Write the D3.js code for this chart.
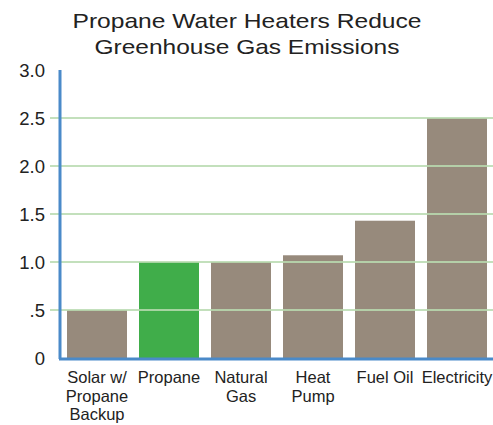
<!DOCTYPE html>
<html>
<head>
<meta charset="utf-8">
<script src="https://cdn.jsdelivr.net/npm/d3@7"></script>
<style>
  body { margin: 0; background: #fff; }
  text { font-family: "Liberation Sans", Arial, sans-serif; fill: #222; }
</style>
</head>
<body>
<div id="chart"></div>
<script>
const categories = ["Solar w/|Propane|Backup", "Propane", "Natural|Gas", "Heat|Pump", "Fuel Oil", "Electricity"];
const values = [0.5, 1.0, 1.0, 1.07, 1.43, 2.5];
const barColors = ["#978a7c", "#40ad4a", "#978a7c", "#978a7c", "#978a7c", "#978a7c"];
const tickValues = [0, 0.5, 1.0, 1.5, 2.0, 2.5, 3.0];
const tickLabels = ["0", ".5", "1.0", "1.5", "2.0", "2.5", "3.0"];
const titleLines = ["Propane Water Heaters Reduce", "Greenhouse Gas Emissions"];

const width = 493;
const height = 425;

const svg = d3.select("#chart").append("svg")
    .attr("width", width)
    .attr("height", height);

const x = d3.scaleBand()
    .domain(categories)
    .range([61, 493])
    .paddingInner(1 / 6)
    .paddingOuter(1 / 12);

const y = d3.scaleLinear()
    .domain([0, 3])
    .range([358, 70]);

// title (source font is wider than Arial, so stretch the spacing a bit)
svg.append("g")
    .selectAll("text")
    .data(titleLines)
    .join("text")
    .attr("x", 247)
    .attr("y", (d, i) => 28 + i * 26)
    .attr("text-anchor", "middle")
    .attr("textLength", (d, i) => i === 0 ? 349 : 305)
    .attr("lengthAdjust", "spacingAndGlyphs")
    .style("font-size", "21px")
    .text(d => d);

// bars
svg.append("g")
    .selectAll("rect")
    .data(values)
    .join("rect")
    .attr("x", (d, i) => x(categories[i]))
    .attr("width", x.bandwidth())
    .attr("y", d => y(d))
    .attr("height", d => y(0) - y(d))
    .attr("fill", (d, i) => barColors[i]);

// grid lines, drawn over the bars
svg.append("g")
    .selectAll("line")
    .data(tickValues.slice(1, -1))
    .join("line")
    .attr("x1", 50)
    .attr("x2", width)
    .attr("y1", d => y(d))
    .attr("y2", d => y(d))
    .attr("stroke", "#b9dbb0")
    .attr("stroke-opacity", 0.85)
    .attr("stroke-width", 2);

// y tick labels
svg.append("g")
    .selectAll("text")
    .data(tickValues)
    .join("text")
    .attr("x", 45)
    .attr("y", d => y(d))
    .attr("dy", "0.36em")
    .attr("text-anchor", "end")
    .style("font-size", "18.5px")
    .text((d, i) => tickLabels[i]);

// axes lines
svg.append("line")
    .attr("x1", 60).attr("x2", 60)
    .attr("y1", y(3)).attr("y2", y(0) + 1)
    .attr("stroke", "#4a8ac9")
    .attr("stroke-width", 3);

svg.append("line")
    .attr("x1", 59).attr("x2", width)
    .attr("y1", y(0) + 1).attr("y2", y(0) + 1)
    .attr("stroke", "#4a8ac9")
    .attr("stroke-width", 3);

// category labels
const labels = svg.append("g")
    .selectAll("text")
    .data(categories)
    .join("text")
    .attr("text-anchor", "middle")
    .style("font-size", "16.5px")
    .attr("transform", d => `translate(${x(d) + x.bandwidth() / 2}, 383)`);

labels.selectAll("tspan")
    .data(d => d.split("|"))
    .join("tspan")
    .attr("x", 0)
    .attr("y", (d, i) => i * 18.5)
    .text(d => d);
</script>
</body>
</html>
